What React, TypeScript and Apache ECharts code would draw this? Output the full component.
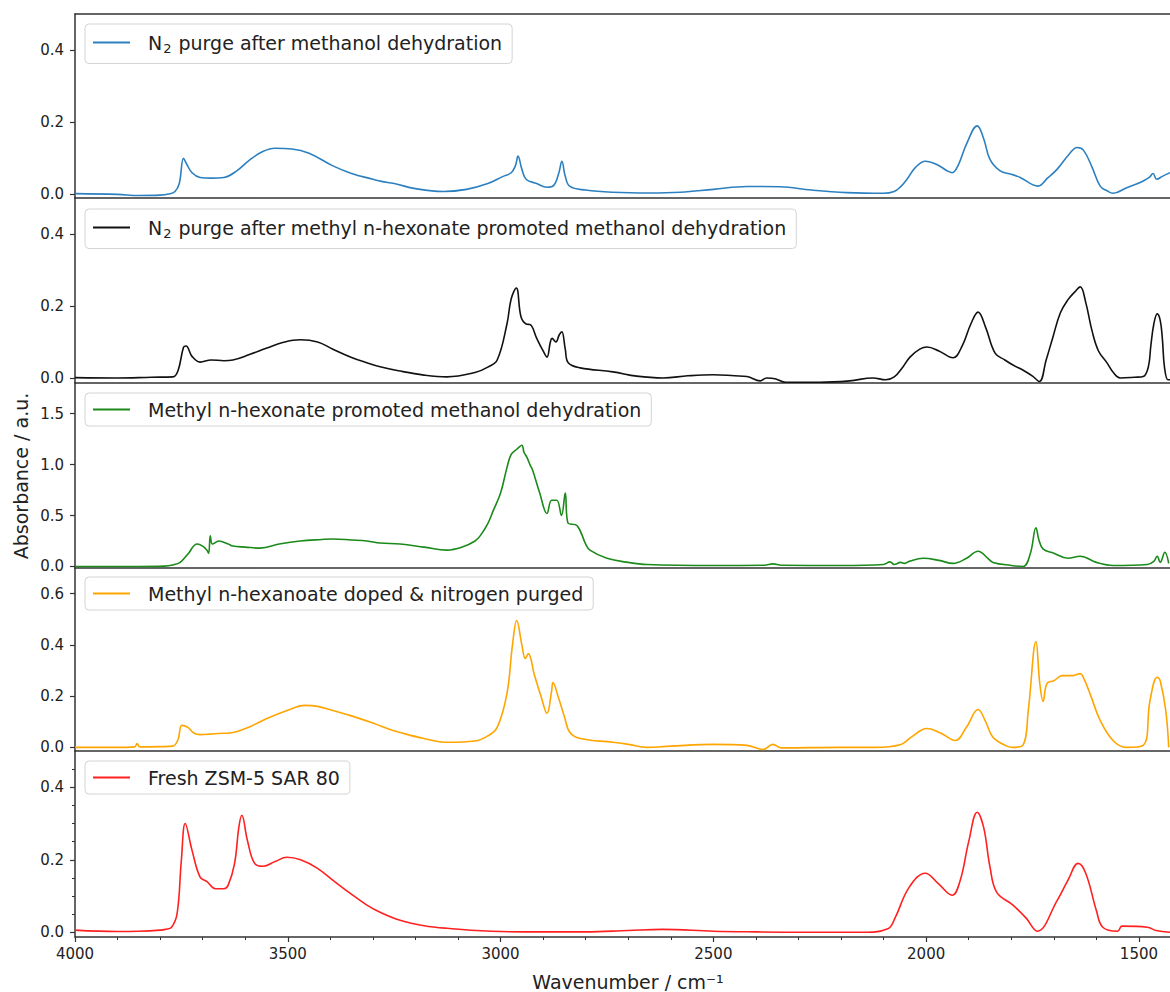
import React, { useEffect, useRef } from "react";
import * as echarts from "echarts";

// ---------- data (wavenumber in cm-1, absorbance in a.u.) ----------
const seriesNames = [
  "N₂ purge after methanol dehydration",
  "N₂ purge after methyl n-hexonate promoted methanol dehydration",
  "Methyl n-hexonate promoted methanol dehydration",
  "Methyl n-hexanoate doped & nitrogen purged",
  "Fresh ZSM-5 SAR 80",
];

const blueWn = [4000, 3900, 3850, 3800, 3780, 3765, 3755, 3745, 3738, 3725, 3706, 3680, 3650, 3620, 3590, 3560, 3530, 3490, 3450, 3394, 3350, 3300, 3280, 3250, 3200, 3135, 3080, 3030, 2994, 2975, 2965, 2959, 2950, 2940, 2915, 2891, 2875, 2863, 2856, 2848, 2837, 2800, 2736, 2650, 2578, 2500, 2421, 2343, 2270, 2186, 2100, 2075, 2061, 2045, 2025, 2002, 1975, 1950, 1939, 1925, 1905, 1880, 1865, 1850, 1826, 1800, 1779, 1737, 1715, 1692, 1665, 1645, 1630, 1610, 1591, 1575, 1561, 1530, 1497, 1475, 1467, 1458, 1445, 1427];
const blueAbs = [0.002, 0.0, -0.003, -0.002, 0.001, 0.008, 0.03, 0.1, 0.085, 0.06, 0.047, 0.045, 0.047, 0.065, 0.095, 0.118, 0.128, 0.126, 0.114, 0.079, 0.058, 0.042, 0.036, 0.03, 0.016, 0.008, 0.014, 0.03, 0.05, 0.06, 0.08, 0.106, 0.07, 0.042, 0.03, 0.02, 0.025, 0.06, 0.092, 0.05, 0.022, 0.012, 0.006, 0.004, 0.006, 0.014, 0.022, 0.021, 0.012, 0.005, 0.003, 0.008, 0.02, 0.042, 0.075, 0.092, 0.083, 0.065, 0.06, 0.08, 0.14, 0.19, 0.155, 0.097, 0.065, 0.056, 0.047, 0.023, 0.045, 0.07, 0.11, 0.13, 0.122, 0.075, 0.023, 0.01, 0.003, 0.018, 0.033, 0.048, 0.058, 0.042, 0.05, 0.06];

const blackWn = [4000, 3900, 3820, 3770, 3758, 3745, 3739, 3725, 3706, 3680, 3650, 3629, 3590, 3549, 3510, 3471, 3430, 3394, 3350, 3314, 3283, 3240, 3180, 3126, 3060, 3030, 3008, 2985, 2975, 2963, 2952, 2940, 2930, 2915, 2900, 2891, 2883, 2879, 2870, 2862, 2856, 2848, 2841, 2813, 2736, 2680, 2618, 2560, 2500, 2450, 2421, 2390, 2375, 2355, 2330, 2250, 2180, 2125, 2095, 2075, 2055, 2038, 2015, 1998, 1970, 1937, 1915, 1895, 1878, 1860, 1838, 1815, 1796, 1770, 1750, 1734, 1718, 1702, 1685, 1667, 1650, 1638, 1625, 1610, 1595, 1575, 1560, 1544, 1510, 1490, 1478, 1472, 1465, 1457, 1450, 1445, 1440, 1432, 1427];
const blackAbs = [0.001, 0.0, 0.002, 0.003, 0.02, 0.085, 0.089, 0.06, 0.044, 0.05, 0.048, 0.05, 0.065, 0.083, 0.099, 0.106, 0.1, 0.08, 0.057, 0.042, 0.031, 0.02, 0.008, 0.003, 0.015, 0.03, 0.05, 0.15, 0.22, 0.25, 0.17, 0.15, 0.148, 0.11, 0.075, 0.058, 0.1, 0.11, 0.1, 0.12, 0.128, 0.08, 0.042, 0.028, 0.017, 0.005, 0.0, 0.006, 0.009, 0.006, 0.004, -0.008, 0.0, -0.002, -0.012, -0.012, -0.008, 0.0, -0.005, 0.003, 0.03, 0.058, 0.08, 0.086, 0.075, 0.056, 0.09, 0.15, 0.183, 0.14, 0.069, 0.05, 0.036, 0.02, 0.005, -0.01, 0.05, 0.114, 0.18, 0.217, 0.24, 0.253, 0.21, 0.13, 0.075, 0.042, 0.015, 0.0, 0.002, 0.004, 0.03, 0.09, 0.15, 0.178, 0.16, 0.11, 0.03, -0.005, -0.005];

const greenWn = [4000, 3850, 3790, 3770, 3753, 3735, 3713, 3700, 3690, 3686, 3682, 3677, 3662, 3640, 3629, 3600, 3565, 3520, 3471, 3420, 3394, 3350, 3314, 3283, 3236, 3180, 3126, 3090, 3060, 3048, 3030, 3017, 3000, 2985, 2975, 2962, 2950, 2945, 2938, 2930, 2925, 2908, 2891, 2880, 2868, 2857, 2848, 2842, 2820, 2800, 2790, 2750, 2700, 2656, 2500, 2380, 2360, 2340, 2200, 2100, 2085, 2075, 2060, 2050, 2040, 2007, 1970, 1937, 1905, 1878, 1855, 1843, 1800, 1772, 1755, 1742, 1735, 1725, 1700, 1667, 1638, 1600, 1560, 1480, 1465, 1457, 1450, 1439, 1430];
const greenAbs = [0.0, 0.0, 0.003, 0.015, 0.04, 0.12, 0.22, 0.2, 0.16, 0.13, 0.3, 0.22, 0.25, 0.22, 0.2, 0.19, 0.18, 0.22, 0.25, 0.265, 0.27, 0.26, 0.25, 0.23, 0.22, 0.19, 0.16, 0.19, 0.25, 0.3, 0.42, 0.55, 0.72, 0.97, 1.1, 1.15, 1.19, 1.12, 1.07, 0.99, 0.95, 0.72, 0.52, 0.65, 0.65, 0.5, 0.72, 0.43, 0.4, 0.22, 0.16, 0.08, 0.04, 0.02, 0.01, 0.012, 0.025, 0.012, 0.01, 0.02, 0.045, 0.02, 0.04, 0.03, 0.05, 0.08, 0.06, 0.03, 0.08, 0.15, 0.08, 0.04, 0.01, 0.0, 0.13, 0.38, 0.26, 0.17, 0.13, 0.08, 0.1, 0.04, 0.01, 0.02, 0.05, 0.1, 0.04, 0.14, 0.03];

const orangeWn = [4000, 3900, 3860, 3854, 3848, 3800, 3770, 3758, 3749, 3735, 3720, 3706, 3680, 3650, 3629, 3590, 3549, 3500, 3460, 3430, 3390, 3354, 3300, 3260, 3236, 3180, 3126, 3060, 3030, 3008, 2985, 2972, 2962, 2950, 2942, 2935, 2920, 2905, 2891, 2880, 2877, 2865, 2850, 2837, 2813, 2736, 2700, 2656, 2600, 2500, 2421, 2383, 2360, 2340, 2200, 2120, 2061, 2035, 1998, 1965, 1932, 1905, 1878, 1860, 1843, 1810, 1796, 1772, 1760, 1742, 1733, 1725, 1716, 1700, 1680, 1655, 1638, 1631, 1615, 1591, 1561, 1530, 1490, 1474, 1457, 1450, 1437, 1430];
const orangeAbs = [0.0, 0.0, 0.002, 0.015, 0.002, 0.003, 0.005, 0.03, 0.086, 0.078, 0.055, 0.05, 0.052, 0.055, 0.058, 0.08, 0.113, 0.145, 0.164, 0.16, 0.142, 0.125, 0.095, 0.07, 0.058, 0.035, 0.02, 0.025, 0.045, 0.078, 0.21, 0.4, 0.495, 0.4, 0.347, 0.366, 0.28, 0.2, 0.133, 0.22, 0.253, 0.2, 0.12, 0.058, 0.035, 0.02, 0.012, 0.0, 0.005, 0.012, 0.008, -0.008, 0.012, -0.002, 0.0, 0.0, 0.01, 0.04, 0.074, 0.055, 0.027, 0.08, 0.148, 0.1, 0.04, 0.005, 0.0, 0.01, 0.144, 0.413, 0.25, 0.18, 0.25, 0.26, 0.28, 0.28, 0.288, 0.274, 0.21, 0.105, 0.027, 0.0, 0.008, 0.183, 0.274, 0.26, 0.144, 0.0];

const redWn = [4000, 3900, 3850, 3800, 3788, 3773, 3760, 3750, 3741, 3725, 3706, 3690, 3670, 3650, 3640, 3625, 3615, 3608, 3595, 3578, 3558, 3530, 3502, 3470, 3431, 3390, 3354, 3314, 3283, 3236, 3180, 3126, 3000, 2900, 2800, 2700, 2620, 2500, 2400, 2300, 2150, 2090, 2073, 2040, 2002, 1972, 1939, 1920, 1900, 1880, 1865, 1850, 1834, 1796, 1765, 1739, 1692, 1667, 1643, 1625, 1600, 1585, 1550, 1540, 1480, 1460, 1427];
const redAbs = [0.006, 0.002, 0.003, 0.006, 0.008, 0.014, 0.052, 0.2, 0.3, 0.226, 0.152, 0.14, 0.12, 0.12, 0.13, 0.19, 0.29, 0.323, 0.254, 0.19, 0.182, 0.195, 0.207, 0.2, 0.177, 0.14, 0.108, 0.075, 0.055, 0.033, 0.018, 0.011, 0.002, 0.001, 0.001, 0.005, 0.008, 0.003, 0.001, 0.0, 0.0, 0.01, 0.04, 0.124, 0.163, 0.135, 0.102, 0.143, 0.25, 0.331, 0.29, 0.18, 0.11, 0.075, 0.039, 0.003, 0.088, 0.143, 0.19, 0.163, 0.06, 0.014, 0.003, 0.017, 0.014, 0.005, 0.0];

const xTickValues = [4000, 3500, 3000, 2500, 2000, 1500];
const xMinorValues = [3900, 3800, 3700, 3600, 3400, 3300, 3200, 3100, 2900, 2800, 2700, 2600, 2400, 2300, 2200, 2100, 1900, 1800, 1700, 1600];
const yTicksP1 = [0, 0.2, 0.4];
const yTicksP2 = [0, 0.2, 0.4];
const yTicksP3 = [0, 0.5, 1.0, 1.5];
const yTicksP4 = [0, 0.2, 0.4, 0.6];
const yTicksP5 = [0, 0.2, 0.4];
const yMinorP5 = [0.05, 0.1, 0.15, 0.25, 0.3, 0.35, 0.45];

// ---------- layout / style ----------
const FONT = "DejaVu Sans";
const TEXT = "#222";
const SPINE = "#333";
const X_MIN = 1427;
const X_MAX = 4000;
const LEFT = 75;

const panels = [
  { top: 14, height: 184, min: -0.01, max: 0.5, ticks: yTicksP1, color: "#2c80c0", wn: blueWn, ab: blueAbs, legTop: 24, legPad: 9 },
  { top: 198, height: 185, min: -0.014, max: 0.5, ticks: yTicksP2, color: "#111111", wn: blackWn, ab: blackAbs, legTop: 209, legPad: 9 },
  { top: 383, height: 185, min: -0.015, max: 1.8, ticks: yTicksP3, color: "#1a8a1a", wn: greenWn, ab: greenAbs, legTop: 393, legPad: 7 },
  { top: 568, height: 183, min: -0.014, max: 0.7, ticks: yTicksP4, color: "#ffa500", wn: orangeWn, ab: orangeAbs, legTop: 577, legPad: 7 },
  { top: 751, height: 186, min: -0.013, max: 0.5, ticks: yTicksP5, color: "#ff2020", wn: redWn, ab: redAbs, legTop: 761, legPad: 7 },
];

function legendLabel(name: string) {
  if (name.indexOf("N₂") === 0) return "{t|N}{sub|2}{t|" + name.slice(2) + "}";
  return "{t|" + name + "}";
}

function buildOption() {
  const grid: any[] = [];
  const xAxis: any[] = [];
  const yAxis: any[] = [];
  const series: any[] = [];
  const legend: any[] = [];

  panels.forEach((p, i) => {
    const isLast = i === panels.length - 1;
    const hasSub = seriesNames[i].indexOf("N₂") === 0;
    grid.push({ left: LEFT, right: 0, top: p.top, height: p.height, containLabel: false });
    xAxis.push({
      type: "value",
      gridIndex: i,
      min: X_MIN,
      max: X_MAX,
      inverse: true,
      position: "bottom",
      axisLine: { show: true, onZero: false, lineStyle: { color: SPINE, width: 1.5 } },
      axisTick: isLast
        ? { show: true, customValues: xTickValues, length: 5, inside: false, lineStyle: { color: SPINE, width: 1.2 } }
        : { show: false },
      axisLabel: isLast
        ? { show: true, customValues: xTickValues, formatter: (v: number) => String(v), fontFamily: FONT, fontSize: 15, color: TEXT, margin: 9 }
        : { show: false },
      splitLine: { show: false },
    });
    yAxis.push({
      type: "value",
      gridIndex: i,
      min: p.min,
      max: p.max,
      position: "left",
      axisLine: { show: true, onZero: false, lineStyle: { color: SPINE, width: 1.5 } },
      axisTick: { show: true, customValues: p.ticks, length: 5, lineStyle: { color: SPINE, width: 1.2 } },
      axisLabel: {
        show: true,
        customValues: p.ticks,
        formatter: (v: number) => v.toFixed(1),
        fontFamily: FONT,
        fontSize: 15,
        color: TEXT,
        margin: 11,
      },
      splitLine: { show: false },
    });
    series.push({
      type: "line",
      name: seriesNames[i],
      xAxisIndex: i,
      yAxisIndex: i,
      data: p.wn.map((w, k) => [w, p.ab[k]]),
      showSymbol: false,
      symbol: "none",
      color: p.color,
      smooth: 0.4,
      lineStyle: { color: p.color, width: 1.6, join: "round" },
      clip: true,
      silent: true,
    });
    legend.push({
      data: [seriesNames[i]],
      left: 85,
      top: p.legTop,
      orient: "horizontal",
      selectedMode: false,
      icon: "rect",
      itemWidth: 37,
      itemHeight: 2,
      backgroundColor: "rgba(255,255,255,0.8)",
      borderColor: "#d4d4d4",
      borderWidth: 1,
      borderRadius: 4,
      padding: [p.legPad, 10, p.legPad, 8],
      formatter: legendLabel,
      textStyle: {
        fontFamily: FONT,
        fontSize: 19,
        color: TEXT,
        padding: [0, 0, 0, 13],
        rich: {
          t: { fontFamily: FONT, fontSize: 19, color: TEXT, lineHeight: hasSub ? 24 : 21, verticalAlign: "middle" },
          sub: { fontFamily: FONT, fontSize: 13, color: TEXT, lineHeight: 24, verticalAlign: "bottom", padding: [0, 1, 0, 1] },
        },
      },
    });
  });

  // top spine of first panel
  xAxis.push({
    type: "value",
    gridIndex: 0,
    min: X_MIN,
    max: X_MAX,
    inverse: true,
    position: "top",
    axisLine: { show: true, onZero: false, lineStyle: { color: SPINE, width: 1.5 } },
    axisTick: { show: false },
    axisLabel: { show: false },
    splitLine: { show: false },
  });
  // minor x ticks, bottom panel
  xAxis.push({
    type: "value",
    gridIndex: 4,
    min: X_MIN,
    max: X_MAX,
    inverse: true,
    position: "bottom",
    axisLine: { show: false, onZero: false },
    axisTick: { show: true, customValues: xMinorValues, length: 3, lineStyle: { color: SPINE, width: 1 } },
    axisLabel: { show: false },
    splitLine: { show: false },
  });
  // minor y ticks, bottom panel
  yAxis.push({
    type: "value",
    gridIndex: 4,
    min: panels[4].min,
    max: panels[4].max,
    position: "left",
    axisLine: { show: false, onZero: false },
    axisTick: { show: true, customValues: yMinorP5, length: 3, lineStyle: { color: SPINE, width: 1 } },
    axisLabel: { show: false },
    splitLine: { show: false },
  });

  return {
    animation: false,
    backgroundColor: "#ffffff",
    textStyle: { fontFamily: FONT },
    grid,
    xAxis,
    yAxis,
    series,
    legend,
    graphic: [
      {
        type: "text",
        x: 21,
        y: 476,
        rotation: Math.PI / 2,
        style: {
          text: "Absorbance / a.u.",
          fontFamily: FONT,
          fontSize: 19,
          fill: TEXT,
          textAlign: "center",
          textVerticalAlign: "middle",
        },
      },
      {
        type: "text",
        x: 628,
        y: 982,
        style: {
          text: "Wavenumber / cm⁻¹",
          fontFamily: FONT,
          fontSize: 19,
          fill: TEXT,
          textAlign: "center",
          textVerticalAlign: "middle",
        },
      },
    ],
  };
}

export default function App() {
  const ref = useRef<HTMLDivElement>(null);
  useEffect(() => {
    if (!ref.current) return;
    const chart = echarts.init(ref.current, undefined, { renderer: "svg" });
    chart.setOption(buildOption() as any);
    return () => chart.dispose();
  }, []);
  return (
    <div
      ref={ref}
      style={{ position: "fixed", left: 0, top: 0, width: 1170, height: 992, background: "#fff" }}
    />
  );
}
